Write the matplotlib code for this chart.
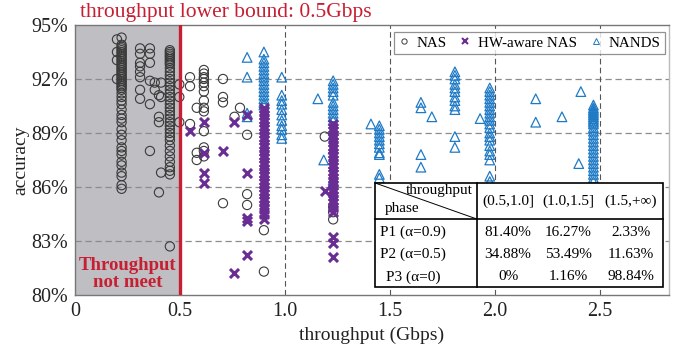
import matplotlib
matplotlib.use('Agg')
import matplotlib.pyplot as plt
from matplotlib.lines import Line2D
from matplotlib.patches import Rectangle

plt.rcParams['font.family'] = ['Liberation Serif', 'DejaVu Serif']

# NAS: throughput columns and accuracy (%) in each column
nas_x = [0.20, 0.222, 0.31, 0.357, 0.38, 0.40, 0.41, 0.452, 0.497, 0.548, 0.58,
         0.614, 0.705, 0.76, 0.786, 0.82, 0.90, 1.19, 1.23]
nas_y = [
    [94.2, 93.5, 93.05, 92.0],
    [94.3, 93.9, 93.8, 93.7, 93.6, 93.5, 93.4, 93.3, 93.2, 93.1, 93.0, 92.9, 92.8,
     92.7, 92.6, 92.5, 92.4, 92.3, 92.2, 92.1, 92.0, 91.9, 91.8, 91.7, 91.6, 91.5,
     91.4, 91.2, 91.0, 90.8, 90.6, 90.3, 90.0, 89.8, 89.6, 89.2, 88.9, 88.6, 88.2,
     88.0, 87.8, 87.4, 87.2, 86.8, 86.6, 86.1, 85.9],
    [93.7, 93.4, 92.9, 92.7, 92.4, 92.1, 91.4, 90.9],
    [93.7, 93.4, 92.9, 91.9, 90.6, 88.0],
    [91.8, 91.4],
    [91.1, 89.9, 89.6, 85.7],
    [91.8, 91.0, 86.8],
    [93.6, 93.5, 93.4, 93.3, 93.2, 93.1, 93.0, 92.9, 92.8, 92.6, 92.4, 92.2, 92.0,
     91.8, 91.6, 91.4, 91.2, 91.0, 90.8, 90.6, 90.4, 90.2, 90.0, 89.8, 89.6, 89.4,
     89.2, 89.0, 88.8, 88.6, 88.3, 88.0, 87.7, 87.4, 87.1, 86.9, 86.7, 82.7],
    [91.7, 91.0, 89.6],
    [92.1, 91.6, 89.5],
    [90.4, 87.9, 87.5],
    [92.5, 92.3, 92.1, 92.0, 91.8, 91.6, 91.3, 90.8, 90.4, 90.2, 89.1, 88.2, 88.0, 87.7],
    [92.0, 91.0, 90.7, 85.1],
    [89.9],
    [90.4],
    [88.9, 85.6, 85.0],
    [83.6, 81.3],
    [88.8],
    [84.9, 84.6, 84.2],
]

# HW-aware NAS
hw_x = [0.548, 0.614, 0.705, 0.757, 0.82, 0.90, 1.19, 1.23]
hw_y = [
    [89.1],
    [89.6, 87.9, 86.8, 86.2],
    [88.0],
    [89.6, 81.2],
    [90.0, 86.8, 84.3, 84.1, 82.2],
    [90.4, 90.2, 90.0, 89.8, 89.6, 89.4, 89.2, 89.0, 88.8, 88.6, 88.4, 88.2, 88.0,
     87.8, 87.6, 87.4, 87.2, 87.0, 86.8, 86.6, 86.4, 86.2, 86.0, 85.8, 85.6, 85.4,
     85.2, 85.0, 84.8, 84.5, 84.2],
    [85.8],
    [89.5, 89.3, 89.1, 88.9, 88.7, 88.5, 88.3, 88.1, 87.9, 87.7, 87.5, 87.3, 87.1,
     86.9, 86.7, 86.5, 86.3, 86.1, 85.9, 85.7, 85.5, 85.3, 85.1, 84.9, 84.6,
     83.2, 82.9, 82.1],
]

# NANDS
nd_x = [0.82, 0.90, 0.985, 1.157, 1.185, 1.23, 1.41, 1.45, 1.648, 1.70, 1.81,
        1.93, 1.976, 2.195, 2.32, 2.40, 2.41, 2.47]
nd_y = [
    [93.2, 92.1, 90.1, 89.9],
    [93.5, 93.1, 92.9, 92.7, 92.5, 92.3, 92.1, 91.9, 91.7, 91.5, 91.3, 91.1, 90.9,
     90.7, 90.55],
    [92.1, 91.1, 90.8, 90.6, 90.3, 90.0, 89.7, 89.4, 89.2, 88.9, 88.7],
    [90.9],
    [87.5],
    [91.9, 91.7, 91.5, 91.3, 91.1, 90.7, 90.5, 90.3, 90.1, 89.9, 89.7, 88.9, 88.1, 86.4],
    [89.5],
    [89.4, 89.2, 89.0, 88.8, 88.6, 88.4, 88.2, 87.9, 87.8, 86.7, 86.5],
    [90.7, 90.4, 87.8, 87.1],
    [89.9],
    [92.4, 92.2, 92.0, 91.7, 91.5, 91.3, 91.0, 90.8, 90.5, 90.3, 88.8, 88.2],
    [89.8],
    [91.5, 91.3, 91.1, 90.9, 90.7, 90.5, 90.3, 90.1, 89.9, 89.7, 89.5, 89.3, 89.0,
     88.8, 88.6, 88.3, 88.0, 87.8, 87.5, 86.6, 86.3],
    [90.9, 89.6],
    [89.9],
    [87.3],
    [91.3],
    [90.55, 90.4, 90.3, 90.2, 90.1, 90.0, 89.9, 89.8, 89.7, 89.6, 89.5, 89.3, 89.1,
     88.9, 88.7, 88.5, 88.3, 88.1, 87.9, 87.7, 87.5, 87.3, 87.1, 86.9, 86.7, 86.5, 86.3],
]

col_labels = ['(0.5,1.0]', '(1.0,1.5]', '(1.5,+\u221e)']
row_labels = ['P1 (\u03b1=0.9)', 'P2 (\u03b1=0.5)', 'P3 (\u03b1=0)']
cell_text = [['81.40%', '16.27%', '2.33%'],
             ['34.88%', '53.49%', '11.63%'],
             ['0%', '1.16%', '98.84%']]

yticks = [80, 83, 86, 89, 92, 95]
xticks = [0, 0.5, 1.0, 1.5, 2.0, 2.5]
xticklabels = ['0', '0.5', '1.0', '1.5', '2.0', '2.5']

RED = '#c81e32'
PURPLE = '#6a2d94'
BLUE = '#1f7ac6'
GREY = '#3a3a3a'


def expand(xs, ys):
    px, py = [], []
    for x, col in zip(xs, ys):
        px += [x] * len(col)
        py += col
    return px, py


fig = plt.figure(figsize=(6.83, 3.54), dpi=100)
ax = fig.add_axes([0.1098, 0.1667, 0.8697, 0.7627])
ax.set_xlim(0, 2.83)
ax.set_ylim(80, 95)

ax.axvspan(0, 0.5, color='#bebec3', zorder=0)
for y in yticks[1:-1]:
    ax.axhline(y, color='#8c8c8c', ls=(0, (5, 3)), lw=0.9, zorder=1)
for x in xticks[2:]:
    ax.axvline(x, color='#555555', ls=(0, (5, 3)), lw=0.8, zorder=1)

x, y = expand(nas_x, nas_y)
ax.scatter(x, y, s=44, marker='o', facecolors='none', edgecolors=GREY, linewidths=0.8, zorder=3)
x, y = expand(nd_x, nd_y)
ax.scatter(x, y, s=48, marker='^', facecolors='none', edgecolors=BLUE, linewidths=0.9, zorder=3)
x, y = expand(hw_x, hw_y)
ax.scatter(x, y, s=42, marker='x', color=PURPLE, linewidths=2.2, zorder=4)

ax.axvline(0.5, color=RED, lw=2.4, zorder=6)
ax.text(0.254, 1.012, 'throughput lower bound: 0.5Gbps', color=RED, fontsize=15.5,
        ha='center', va='bottom', transform=ax.transAxes)
ax.text(0.25, 81.65, 'Throughput', color=RED, fontsize=13.5, fontweight='bold', ha='center', va='center', zorder=7)
ax.text(0.25, 80.7, 'not meet', color=RED, fontsize=13.5, fontweight='bold', ha='center', va='center', zorder=7)

ax.set_yticks(yticks)
ax.set_yticklabels(['%d%%' % t for t in yticks])
ax.set_xticks(xticks)
ax.set_xticklabels(xticklabels)
ax.tick_params(labelsize=14.5, length=0, pad=5, colors='#222222')
ax.set_xlabel('throughput (Gbps)', fontsize=14, color='#222222', labelpad=4)
ax.set_ylabel('accuracy', fontsize=14, color='#222222', labelpad=1)
for s in ax.spines.values():
    s.set_color('#777777')
    s.set_linewidth(1.0)
ax.spines['right'].set_color('#bbbbbb')

handles = [Line2D([], [], ls='none', marker='o', mfc='none', mec=GREY, ms=3.8, mew=0.7),
           Line2D([], [], ls='none', marker='x', color=PURPLE, ms=4, mew=1.5),
           Line2D([], [], ls='none', marker='^', mfc='none', mec=BLUE, ms=4.3, mew=0.7)]
leg = ax.legend(handles, ['NAS', 'HW-aware NAS', 'NANDS'], loc='upper right', ncol=3,
                fontsize=10.8, frameon=True, fancybox=False, handlelength=0.7,
                handletextpad=0.5, columnspacing=0.9, borderpad=0.3,
                bbox_to_anchor=(0.993, 0.975), borderaxespad=0)
leg.get_frame().set_edgecolor('#777777')
leg.get_frame().set_linewidth(0.9)
leg.set_zorder(8)

# table, axes coordinates
tx0, tx1, ty0, ty1 = 0.505, 0.99, 0.03, 0.415
tsplit = 0.677
thead = 0.281
ax.add_patch(Rectangle((tx0, ty0), tx1 - tx0, ty1 - ty0, transform=ax.transAxes,
                       facecolor='white', edgecolor='black', lw=1.2, zorder=9))
ax.plot([tx0, tx1], [thead, thead], color='black', lw=1.2, transform=ax.transAxes, zorder=10)
ax.plot([tsplit, tsplit], [ty0, ty1], color='black', lw=1.2, transform=ax.transAxes, zorder=10)
ax.plot([tx0, tsplit], [ty1, thead], color='black', lw=0.7, transform=ax.transAxes, zorder=10)
ax.text(tsplit - 0.008, ty1 - 0.028, 'throughput', fontsize=11, ha='right', va='center',
        transform=ax.transAxes, zorder=11)
ax.text(tx0 + 0.017, thead + 0.04, 'phase', fontsize=11, ha='left', va='center',
        transform=ax.transAxes, zorder=11)
col_x = [0.729, 0.830, 0.936]
row_y = [0.233, 0.151, 0.067]
for cx, lab in zip(col_x, col_labels):
    ax.text(cx, 0.348, lab, fontsize=11, ha='center', va='center', transform=ax.transAxes, zorder=11)
for ry, lab, row in zip(row_y, row_labels, cell_text):
    ax.text(0.569, ry, lab, fontsize=11, ha='center', va='center', transform=ax.transAxes, zorder=11)
    for cx, val in zip(col_x, row):
        ax.text(cx, ry, val, fontsize=11, ha='center', va='center', transform=ax.transAxes, zorder=11)

fig.savefig('out.png', dpi=100)
